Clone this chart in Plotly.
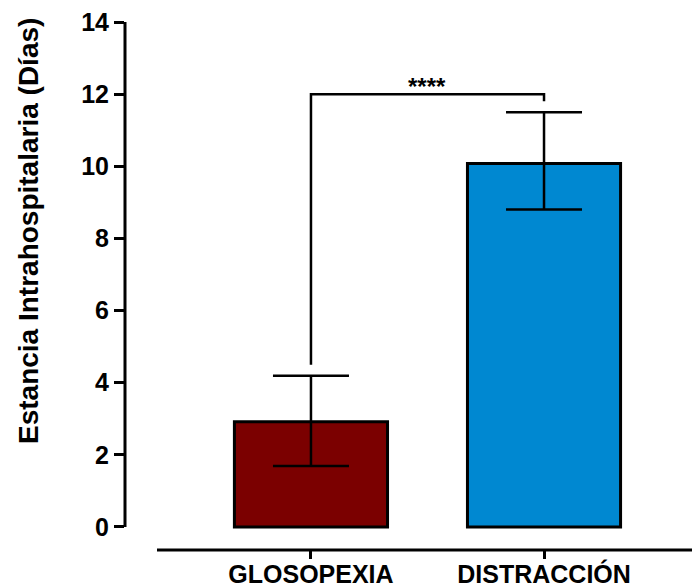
import plotly.graph_objects as go

categories = ["GLOSOPEXIA", "DISTRACCIÓN"]
means = [2.92, 10.08]
err_upper = [4.19, 11.5]
err_lower = [1.69, 8.8]
colors = ["#7B0000", "#0088D1"]
y_ticks = [0, 2, 4, 6, 8, 10, 12, 14]
y_title = "Estancia Intrahospitalaria (Días)"
sig_label = "****"
bracket_y = 12
bracket_left_start = 4.5
bracket_right_end = 11.8

FONT = "Liberation Sans, Arial, sans-serif"

fig = go.Figure()
fig.add_trace(go.Bar(
    x=categories, y=means,
    width=0.657,
    marker=dict(color=colors, line=dict(color="black", width=3)),
    error_y=dict(type="data", symmetric=False,
                 array=[u - m for u, m in zip(err_upper, means)],
                 arrayminus=[m - l for m, l in zip(means, err_lower)],
                 color="black", thickness=2.5, width=38),
    showlegend=False,
))
# significance bracket
fig.add_trace(go.Scatter(
    x=[categories[0], categories[0], categories[1], categories[1]],
    y=[bracket_left_start, bracket_y, bracket_y, bracket_right_end],
    mode="lines", line=dict(color="black", width=2.5),
    showlegend=False, hoverinfo="skip",
))
fig.add_annotation(x=0.5, y=bracket_y, xref="x", yref="y", text=f"<b>{sig_label}</b>",
                   showarrow=False, yanchor="middle", yshift=8,
                   font=dict(family=FONT, size=24, color="black"))

# y axis line (0..14)
fig.add_shape(type="line", xref="paper", yref="y", x0=0, x1=0, y0=0, y1=14,
              line=dict(color="black", width=3))
# x axis line
fig.add_shape(type="line", xref="paper", yref="paper", x0=(157 - 125) / 567, x1=1, y0=0, y1=0,
              line=dict(color="black", width=3))

fig.add_annotation(xref="paper", yref="paper", x=0, y=(550 - 231) / 528, xshift=-97,
                   text=f"<b>{y_title}</b>", textangle=-90, showarrow=False,
                   xanchor="center", yanchor="middle",
                   font=dict(family=FONT, size=28, color="black"))

fig.update_layout(
    width=692, height=588,
    margin=dict(l=125, r=0, t=22, b=38),
    plot_bgcolor="white", paper_bgcolor="white",
    font=dict(family=FONT, color="black"),
    xaxis=dict(range=[-0.798, 1.635], showline=False, showgrid=False, zeroline=False,
               automargin=False,
               ticks="outside", ticklen=8, tickwidth=2.5, tickcolor="black",
               ticklabelstandoff=-6,
               tickfont=dict(size=25, family=FONT, weight="bold")),
    yaxis=dict(range=[-0.638, 14], tickvals=y_ticks, showline=False, showgrid=False, zeroline=False,
               automargin=False,
               ticks="outside", ticklen=10, tickwidth=2.5, tickcolor="black",
               tickfont=dict(size=25, family=FONT, weight="bold")),
)
fig.write_html("out.html")
